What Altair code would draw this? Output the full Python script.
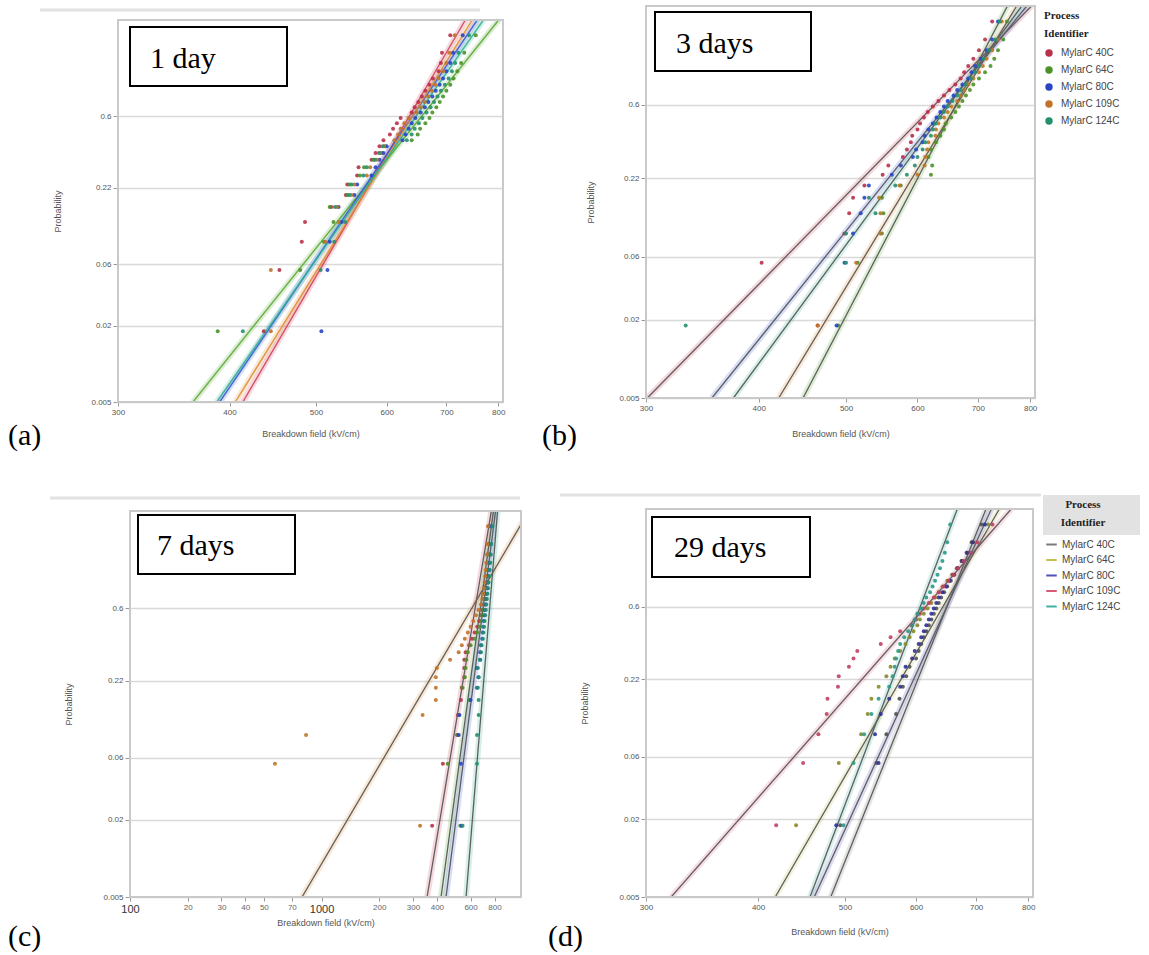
import math
import altair as alt
import pandas as pd

# ---------------- data ----------------
SERIES = ["MylarC 40C", "MylarC 64C", "MylarC 80C", "MylarC 109C", "MylarC 124C"]
LEVELS = [0.018, 0.054, 0.089, 0.125, 0.161, 0.196, 0.232, 0.268, 0.304, 0.339,
          0.375, 0.411, 0.446, 0.482, 0.518, 0.554, 0.589, 0.625, 0.661, 0.696,
          0.732, 0.768, 0.804, 0.839, 0.875, 0.911, 0.946, 0.982]
P_ENDS = [0.005, 0.995]
PROB_TICKS = [0.005, 0.02, 0.06, 0.22, 0.6]
FIELD_TICKS = [300, 400, 500, 600, 700, 800]
FIELD_TICKS_C = [100, 200, 300, 400, 500, 700, 1000, 2000, 3000, 4000, 6000, 8000]
PANEL_TAGS = ["1 day", "3 days", "7 days", "29 days"]
PANEL_LETTERS = ["(a)", "(b)", "(c)", "(d)"]

# (a) 1 day
A_40C = [437, 455, 482, 486, 520, 540, 542, 556, 558, 577, 583, 589, 595, 605, 610, 616, 622, 640, 645, 651, 657, 663, 670, 676, 686, 690, 692, 707]
A_64C = [388, 480, 510, 523, 518, 542, 545, 560, 566, 580, 592, 598, 640, 650, 654, 663, 670, 675, 682, 688, 694, 700, 707, 713, 720, 727, 733, 755]
A_80C = [507, 515, 518, 534, 530, 552, 556, 577, 583, 589, 595, 600, 625, 630, 635, 640, 646, 655, 662, 668, 675, 681, 688, 694, 700, 707, 712, 730]
A_109C = [445, 445, 512, 530, 528, 548, 552, 570, 575, 585, 590, 596, 612, 618, 622, 628, 635, 648, 655, 662, 668, 674, 680, 686, 694, 700, 705, 715]
A_124C = [414, 506, 524, 539, 525, 545, 548, 565, 570, 582, 588, 594, 632, 640, 645, 652, 658, 665, 672, 678, 684, 690, 697, 704, 710, 716, 722, 742]
A_FIT_LOW = [414, 364, 390, 406, 387]
A_FIT_HIGH = [735, 801, 758, 748, 770]

# (b) 3 days
B_40C = [465, 403, 498, 504, 509, 524, 549, 557, 578, 584, 590, 592, 600, 604, 610, 616, 624, 633, 642, 651, 661, 670, 676, 683, 692, 702, 713, 726]
B_64C = [490, 515, 548, 550, 548, 575, 621, 623, 617, 621, 629, 636, 642, 645, 654, 661, 667, 673, 679, 686, 692, 702, 713, 723, 730, 737, 747, 754]
B_80C = [488, 498, 509, 519, 524, 530, 562, 575, 593, 598, 608, 611, 617, 624, 630, 636, 642, 648, 658, 664, 673, 683, 689, 695, 705, 716, 726, 737]
B_109C = [465, 513, 546, 546, 544, 573, 600, 611, 612, 615, 617, 628, 629, 633, 642, 648, 654, 664, 670, 676, 683, 692, 702, 709, 716, 726, 737, 744]
B_124C = [332, 500, 500, 539, 530, 567, 584, 596, 600, 608, 612, 621, 624, 628, 636, 642, 648, 656, 664, 670, 678, 688, 695, 702, 710, 720, 732, 740]
B_FIT_LOW = [301, 448, 355, 421, 375]
B_FIT_HIGH = [803, 755, 793, 773, 783]

# (c) 7 days
C_40C = [3780, 4300, 5100, 5150, 5340, 5400, 5560, 5560, 5560, 5650, 5900, 6100, 6300, 6500, 6650, 6800, 6900, 7000, 7050, 7100, 7150, 7200, 7250, 7300, 7350, 7400, 7450, 7500]
C_64C = [5300, 4560, 5150, 5200, 5930, 5450, 5600, 5650, 5700, 5800, 6000, 6300, 6500, 6700, 6800, 6900, 7000, 7100, 7150, 7200, 7250, 7300, 7350, 7400, 7450, 7500, 7550, 7600]
C_80C = [5380, 5340, 5200, 5250, 6000, 6480, 6600, 6480, 6740, 6740, 6800, 6900, 6950, 7000, 7050, 7100, 7150, 7200, 7250, 7300, 7350, 7400, 7450, 7500, 7550, 7600, 7650, 7700]
C_109C = [3270, 571, 830, 3370, 3950, 3950, 3950, 4000, 4690, 5200, 5400, 5600, 5800, 6000, 6200, 6400, 6600, 6800, 6900, 7000, 7050, 7100, 7150, 7200, 7250, 7300, 7350, 7400]
C_124C = [5450, 6480, 6480, 6610, 6610, 6550, 6610, 6550, 6700, 6800, 6850, 6950, 7000, 7050, 7100, 7150, 7200, 7250, 7300, 7350, 7400, 7450, 7500, 7550, 7600, 7650, 7700, 7800]
C_FIT_LOW = [3556, 4207, 4467, 791, 5683]
C_FIT_HIGH = [7700, 7900, 8100, 12100, 8300]

# (d) 29 days
D_40C = [494, 542, 556, 570, 575, 580, 585, 590, 600, 604, 608, 612, 616, 620, 624, 628, 632, 636, 640, 645, 650, 656, 662, 668, 675, 683, 692, 710]
D_64C = [441, 492, 521, 530, 535, 545, 556, 562, 568, 576, 584, 590, 596, 602, 606, 612, 618, 624, 630, 636, 642, 650, 658, 666, 674, 684, 696, 722]
D_80C = [489, 545, 540, 548, 560, 576, 580, 584, 594, 598, 604, 608, 612, 616, 620, 624, 628, 632, 636, 642, 648, 654, 660, 667, 675, 684, 694, 716]
D_109C = [419, 449, 467, 477, 478, 491, 492, 505, 511, 516, 548, 562, 576, 593, 600, 606, 612, 620, 628, 636, 644, 652, 660, 668, 678, 690, 702, 730]
D_124C = [498, 511, 525, 535, 545, 560, 565, 568, 570, 573, 576, 582, 588, 594, 598, 602, 608, 612, 616, 622, 626, 630, 634, 638, 642, 646, 650, 655]
D_FIT_LOW = [482, 418, 462, 320, 457]
D_FIT_HIGH = [718, 743, 728, 766, 667]

# ---------------- colours ----------------
PT_COLORS = ["#b8304a", "#4a9228", "#2a44c8", "#c07428", "#25906e"]
LINE_COLORS = ["#d0405a", "#5aa832", "#3a58d8", "#e08a30", "#30b090"]
D_LINE_COLORS = ["#7a7a7a", "#c0c050", "#5050b8", "#d85a78", "#40b0a0"]
D_PT_COLORS = ["#505050", "#8a8a28", "#30309a", "#c04060", "#2a9a88"]
FRAME = "#c9c9c9"

FONT = "Liberation Sans"
SERIF = "Liberation Serif"


def tf(p):
    return math.log(-math.log(1.0 - p))


Y_CALC = "log(-log(1 - datum.p))"


def points_df(lists):
    rows = []
    for s, vals in zip(SERIES, lists):
        for p, v in zip(LEVELS, vals):
            rows.append({"series": s, "p": p, "field": v})
    return pd.DataFrame(rows)


def lines_df(low, high):
    rows = []
    for s, lo, hi in zip(SERIES, low, high):
        rows.append({"curve": s, "p": P_ENDS[0], "field": lo})
        rows.append({"curve": s, "p": P_ENDS[1], "field": hi})
    return pd.DataFrame(rows)


ONE = pd.DataFrame({"k": [0]})


def y_axis(title_x, title_y, offset=0):
    return alt.Axis(values=[tf(p) for p in PROB_TICKS],
                    labelExpr="format(1 - exp(-exp(datum.value)), '.2~g')",
                    title="Probability", titleX=title_x, titleY=title_y,
                    titleAngle=270, titleBaseline="middle", titleAlign="center",
                    titleFontWeight="normal", titleFontSize=9, titleColor="#555555",
                    grid=True, gridColor="#d9d9d9", gridWidth=1.5, offset=offset,
                    domain=False, tickSize=5, tickColor="#9a9a9a",
                    labelFontSize=8, labelColor="#555555", labelPadding=2)


def x_axis_std(title_x, title_y):
    return alt.Axis(values=FIELD_TICKS, format="d", title="Breakdown field (kV/cm)",
                    titleX=title_x, titleY=title_y, titleBaseline="middle",
                    titleAlign="center", titleFontWeight="normal", titleFontSize=9,
                    titleColor="#555555", grid=False, domain=False, tickSize=4,
                    tickColor="#9a9a9a", labelFontSize=8, labelColor="#555555",
                    labelFlush=False, labelOverlap=False, labelPadding=2)


MAJOR = "datum.value == 100 || datum.value == 1000"


def x_axis_c(title_x, title_y):
    return alt.Axis(values=FIELD_TICKS_C, format="d",
                    labelExpr="(" + MAJOR + ") ? datum.label : format(datum.value / 10, 'd')",
                    labelFontSize={"condition": {"test": MAJOR, "value": 11}, "value": 8},
                    labelColor={"condition": {"test": MAJOR, "value": "#333333"}, "value": "#666666"},
                    title="Breakdown field (kV/cm)", titleX=title_x, titleY=title_y,
                    titleBaseline="middle", titleAlign="center", titleFontWeight="normal",
                    titleFontSize=9, titleColor="#555555", grid=False,
                    domain=False, tickSize=4, tickColor="#9a9a9a",
                    labelFlush=False, labelOverlap=False, labelPadding=2)


def panel(idx, pts, lns, w, h, left, top, xscale, xaxis, ytitle_x, pt_colors, line_colors,
          core_colored, pt_legend, line_legend, box, tag_xy, letter_xy, top_rule, extra=None):
    y_enc = alt.Y("T:Q", scale=alt.Scale(domain=[tf(P_ENDS[0]), tf(P_ENDS[1])], range=[h, top],
                                         nice=False, zero=False),
                  axis=y_axis(ytitle_x, top + (h - top) / 2, -left))
    x_enc = alt.X("field:Q", scale=xscale, axis=xaxis)
    stroke_enc = alt.Stroke("curve:N", scale=alt.Scale(domain=SERIES, range=line_colors),
                            legend=line_legend)
    base_l = alt.Chart(lns).transform_calculate(T=Y_CALC)
    halo = base_l.mark_line(strokeWidth=6, opacity=0.2, clip=True).encode(
        x=x_enc, y=y_enc, stroke=stroke_enc)
    if core_colored:
        core = base_l.mark_line(strokeWidth=1.4, opacity=0.9, clip=True).encode(
            x="field:Q", y="T:Q",
            stroke=alt.Stroke("curve:N", scale=alt.Scale(domain=SERIES, range=line_colors),
                              legend=line_legend))
    else:
        core = base_l.mark_line(strokeWidth=1.3, color="#5e5e5e", clip=True).encode(
            x="field:Q", y="T:Q", detail="curve:N")
    pts_layer = alt.Chart(pts).transform_calculate(T=Y_CALC).mark_circle(
        size=16, opacity=0.9).encode(
        x="field:Q", y="T:Q",
        fill=alt.Fill("series:N", scale=alt.Scale(domain=SERIES, range=pt_colors), legend=pt_legend))
    frame = alt.Chart(ONE).mark_rect(fill="white", fillOpacity=0, stroke=FRAME, strokeWidth=2).encode(
        x=alt.value(left), x2=alt.value(w), y=alt.value(top), y2=alt.value(h))
    rect = alt.Chart(ONE).mark_rect(fill="white", stroke="black", strokeWidth=2).encode(
        x=alt.value(box[0]), x2=alt.value(box[1]), y=alt.value(box[2]), y2=alt.value(box[3]))
    tag = alt.Chart(ONE).mark_text(font=SERIF, fontSize=30, align="left", baseline="alphabetic",
                                   color="black").encode(
        x=alt.value(tag_xy[0]), y=alt.value(tag_xy[1]), text=alt.value(PANEL_TAGS[idx]))
    letter = alt.Chart(ONE).mark_text(font=SERIF, fontSize=30, align="left", baseline="alphabetic",
                                      color="black").encode(
        x=alt.value(letter_xy[0]), y=alt.value(letter_xy[1]), text=alt.value(PANEL_LETTERS[idx]))
    layers = []
    if extra is not None:
        layers.append(extra)
    if top_rule is not None:
        layers.append(alt.Chart(ONE).mark_rule(color="#e2e2e2", strokeWidth=3).encode(
            x=alt.value(top_rule[0]), x2=alt.value(top_rule[1]), y=alt.value(top_rule[2])))
    layers += [halo, core, pts_layer, frame, rect, tag, letter]
    return alt.layer(*layers).properties(width=w, height=h,
                                         view=alt.ViewBackground(strokeOpacity=0))


LOG_STD = alt.Scale(type="log", domain=[300, 810], nice=False)

legend_b = alt.Legend(title=["Process", "Identifier"], orient="none", legendX=398, legendY=4,
                      symbolType="circle", symbolSize=55, symbolStrokeWidth=0, symbolOpacity=1,
                      labelFont=FONT, labelFontSize=10, labelColor="#444444",
                      titleFont=SERIF, titleFontSize=11, titleFontWeight="bold",
                      titleColor="#222222", titleLineHeight=18, titlePadding=9,
                      rowPadding=7, labelOffset=7, padding=0)
legend_d = alt.Legend(title=["Process", "Identifier"], orient="none", legendX=399, legendY=-10,
                      symbolType="stroke", symbolSize=110, symbolStrokeWidth=2, symbolOpacity=1,
                      labelFont=FONT, labelFontSize=10, labelColor="#444444",
                      titleFont=SERIF, titleFontSize=11, titleFontWeight="bold",
                      titleColor="#222222", titleLineHeight=18, titlePadding=10,
                      titleAnchor="middle", rowPadding=3.5, labelOffset=4, padding=0)

# plot sizes (views carry a left/top offset used to stagger the panels)
WA, HA, TA = 385, 396, 14
WB, HB, TB = 389, 392, 0
LC, WC, HC, TC = 12, 403, 388, 2
WD, HD, TD = 387, 388, 0

pa = panel(0, points_df([A_40C, A_64C, A_80C, A_109C, A_124C]), lines_df(A_FIT_LOW, A_FIT_HIGH),
           WA, HA, 0, TA, LOG_STD, x_axis_std(WA / 2, 31), -61, PT_COLORS, LINE_COLORS, True,
           None, None, (12, 169, 21, 80), (32, 62), (-110, 439), (-78, 362, 4))
pb = panel(1, points_df([B_40C, B_64C, B_80C, B_109C, B_124C]), lines_df(B_FIT_LOW, B_FIT_HIGH),
           WB, HB, 0, TB, LOG_STD, x_axis_std(WB / 2, 35), -56, PT_COLORS, LINE_COLORS, False,
           legend_b, legend_b, (9, 165, 6, 65), (30, 47), (-104, 439), None)
pc = panel(2, points_df([C_40C, C_64C, C_80C, C_109C, C_124C]), lines_df(C_FIT_LOW, C_FIT_HIGH),
           WC, HC, LC, TC, alt.Scale(type="log", domain=[100, 11000], range=[LC, WC], nice=False),
           x_axis_c(LC + (WC - LC) / 2, 25), -62,
           PT_COLORS, LINE_COLORS, False, None, None, (20, 177, 6, 65), (39, 46), (-110, 437),
           (-68, 402, -11))
d_box = alt.Chart(ONE).mark_rect(fill="#e2e2e2").encode(
    x=alt.value(397), x2=alt.value(494), y=alt.value(-14), y2=alt.value(26))
pd_ = panel(3, points_df([D_40C, D_64C, D_80C, D_109C, D_124C]), lines_df(D_FIT_LOW, D_FIT_HIGH),
            WD, HD, 0, TD, LOG_STD, x_axis_std(WD / 2, 34), -62, D_PT_COLORS, D_LINE_COLORS, False,
            None, legend_d, (6, 164, 8, 68), (28, 48), (-98, 437), (-86, 395, -14), extra=d_box)

RES = dict(fill="independent", stroke="independent")
row1 = alt.hconcat(pa, pb, spacing=143, bounds="flush").resolve_scale(**RES).resolve_legend(**RES)
row2 = alt.hconcat(pc, pd_, spacing=125, bounds="flush").resolve_scale(**RES).resolve_legend(**RES)
chart = alt.vconcat(row1, row2, spacing=42).resolve_scale(**RES).resolve_legend(**RES).properties(
    padding={"left": 8, "top": 5, "right": 5, "bottom": 5}
).configure_axis(
    labelFont=FONT, titleFont=FONT, titleFontSize=9, titleFontWeight="normal", titleColor="#555555"
).configure(background="white")

chart.save("out.html", embed_options={"renderer": "svg", "actions": False})
